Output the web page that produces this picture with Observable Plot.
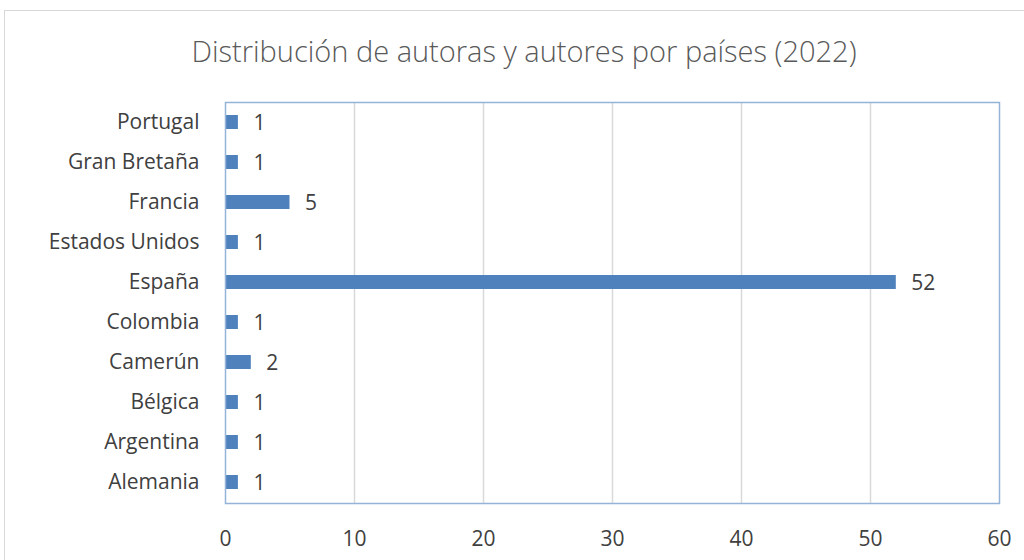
<!DOCTYPE html>
<html>
<head>
<meta charset="utf-8">
<script src="https://cdn.jsdelivr.net/npm/d3@7"></script>
<script src="https://cdn.jsdelivr.net/npm/@observablehq/plot@0.6"></script>
<style>
  html, body { margin: 0; padding: 0; background: #fff; }
  #wrap { position: relative; width: 1024px; height: 560px; overflow: hidden; font-family: "Open Sans", sans-serif; }
  #border { position: absolute; left: 4px; top: 10px; width: 1040px; height: 580px; border: 1.5px solid #d9d9d9; box-sizing: border-box; }
  #title { position: absolute; left: 0; top: 0; width: 1048px; height: 90px; line-height: 102px; text-align: center; font-size: 29px; font-weight: 300; color: #595959; }
  #chart { position: absolute; left: 0; top: 90px; }
</style>
</head>
<body>
<div id="wrap">
  <div id="border"></div>
  <div id="title">Distribución de autoras y autores por países (2022)</div>
  <div id="chart"></div>
</div>
<script>
const countries = ["Alemania", "Argentina", "Bélgica", "Camerún", "Colombia", "España", "Estados Unidos", "Francia", "Gran Bretaña", "Portugal"];
const counts = [1, 1, 1, 2, 1, 52, 1, 5, 1, 1];
const xTicks = [0, 10, 20, 30, 40, 50, 60];

const data = countries.map((c, i) => ({country: c, value: counts[i]}));

const chart = Plot.plot({
  width: 1024,
  height: 470,
  marginLeft: 225,
  marginRight: 25,
  marginTop: 12,
  marginBottom: 57,
  style: {fontFamily: "Open Sans, sans-serif", fontSize: "21px", color: "#404040", background: "transparent"},
  x: {domain: [0, 60], ticks: xTicks, tickSize: 0, tickPadding: 28, label: null},
  y: {domain: countries.slice().reverse(), paddingInner: 0.64, paddingOuter: 0.32, tickSize: 0, tickPadding: 26, label: null},
  marks: [
    Plot.ruleX(xTicks.slice(1, -1), {stroke: "#d9d9d9", strokeWidth: 1.5}),
    Plot.barX(data, {x: "value", y: "country", fill: "#4f81bd"}),
    Plot.text(data, {x: "value", y: "country", text: d => String(d.value), textAnchor: "start", dx: 15, dy: 1, fill: "#404040", fontSize: 21}),
    Plot.frame({stroke: "#95b3d7", strokeWidth: 1.5})
  ]
});
document.getElementById("chart").appendChild(chart);
</script>
</body>
</html>
